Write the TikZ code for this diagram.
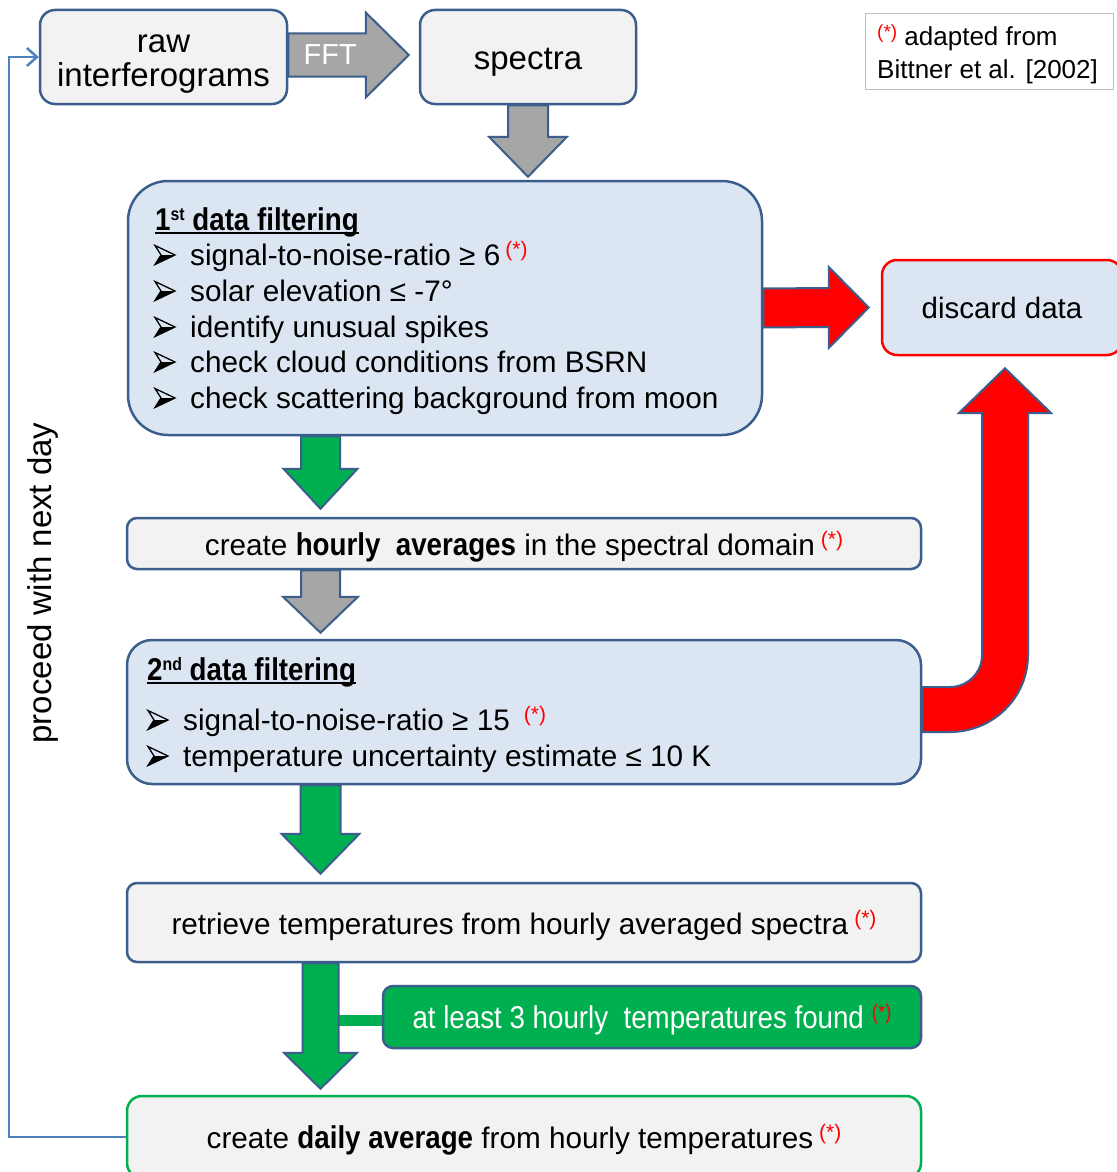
\documentclass[tikz,border=0pt]{standalone}
\usepackage{fontspec}
\setmainfont{Liberation Sans}
\newfontfamily\nar{Liberation Sans}[FakeStretch=0.88]
\usetikzlibrary{calc,arrows.meta,backgrounds}
\definecolor{bord}{HTML}{3B5E8C}
\definecolor{lgray}{HTML}{F2F2F2}
\definecolor{lblue}{HTML}{DCE6F2}
\definecolor{agray}{HTML}{A6A6A6}
\definecolor{agreen}{HTML}{00B050}
\definecolor{fblue}{HTML}{4F81BD}
\definecolor{nbord}{HTML}{BFBFBF}
\newcommand\fs[1]{\fontsize{#1}{#1}\selectfont}
\newcommand\astr{\raisebox{9pt}{\fs{21}\color{red}(*)}}
\newcommand\myul[1]{\setbox0\hbox{#1}\rlap{\rule[-3.5pt]{\wd0}{1.6pt}}\box0}
\newcommand\supx[1]{\raisebox{10pt}{\fs{18}#1}}
\newcommand\dn[1]{\raisebox{-#1pt}[\height][\depth]}
% style, start, tip, shaft half width, head half width, head length
\newcommand\downarrowblock[6]{\draw[#1] ($(#2)+(-#4,0)$) -- ($(#2)+(#4,0)$) -- ($(#3)+(#4,-#6)$) -- ($(#3)+(#5,-#6)$) -- (#3) -- ($(#3)+(-#5,-#6)$) -- ($(#3)+(-#4,-#6)$) -- cycle;}
\newcommand\rightarrowblock[6]{\draw[#1] ($(#2)+(0,-#4)$) -- ($(#3)+(-#6,-#4)$) -- ($(#3)+(-#6,-#5)$) -- (#3) -- ($(#3)+(-#6,#5)$) -- ($(#3)+(-#6,#4)$) -- ($(#2)+(0,#4)$) -- cycle;}
\begin{document}
\begin{tikzpicture}[x=1pt,y=-1pt,
  box/.style={draw=bord, line width=2.5pt, fill=lgray, rounded corners=15pt, inner sep=0pt},
  fbox/.style={box, fill=lblue},
  barrow/.style={draw=bord, line width=2pt, line join=miter},
  grayarrow/.style={barrow, fill=agray},
  greenarrow/.style={barrow, fill=agreen},
  redarrow/.style={barrow, fill=red},
  item/.style={anchor=base west, inner sep=0pt, font=\fs{29.7}},
  head/.style={anchor=base west, inner sep=0pt, font=\nar\bfseries\fs{31.5}},
  bul/.pic={
    \fill[black] (6,0) -- (20,0) -- (0,9.5) -- cycle;
    \draw[black, line width=1.3pt, line join=miter] (6,0) -- (0,-9.5) -- (20,0) -- (0,9.5) -- cycle;
  }]
\useasboundingbox (0,0) rectangle (1116,1172);
\begin{scope}[on background layer]
\fill[white] (0,0) rectangle (1116,1172);
\end{scope}

% top boxes
\node[box, minimum width=247pt, minimum height=94pt, font=\fontsize{33}{34}\selectfont] (raw) at (163.5,57) {\dn{6}{\begin{tabular}{@{}c@{}}raw\\interferograms\end{tabular}}};
\node[box, minimum width=216pt, minimum height=94pt, font=\fs{33}] (spectra) at (528,57) {\dn{5}{spectra}};
\coordinate (fftA) at ($(raw.east)+(0,-2)$);
\coordinate (fftB) at ($(spectra.west)+(-10,-2)$);
\rightarrowblock{grayarrow}{fftA}{fftB}{21.5}{42.5}{43}
\node[font=\fs{29}, text=white, inner sep=0pt] (fft) at ($(raw.east)+(42,-2)$) {FFT};

% note
\node[draw=nbord, line width=1pt, fill=white, minimum width=248pt, minimum height=75pt, inner sep=0pt] (note) at (989,51.5) {};
\node[anchor=base west, inner sep=0pt, font=\fs{26}] (n1) at (877,46) {\raisebox{8pt}{\fs{19}\color{red}(*)} adapted from};
\node[anchor=base west, inner sep=0pt, font=\fs{26}] (n2) at (877,78) {Bittner et al. [2002]};

% first filter
\node[fbox, rounded corners=40pt, minimum width=634pt, minimum height=254pt] (f1) at (445,308) {};
\coordinate (sA) at (spectra.south);
\coordinate (sB) at ($(f1.north -| spectra.south)+(0,-3)$);
\downarrowblock{grayarrow}{sA}{sB}{20}{39}{40}
\node[head] (f1t) at (155,230) {\myul{1\supx{st} data filtering}};
\node[item] (f1a) at (190,265) {signal-to-noise-ratio ≥ 6\hspace{5pt}\astr};
\node[item] (f1b) at (190,301) {solar elevation ≤ -7°};
\node[item] (f1c) at (190,337) {identify unusual spikes};
\node[item] (f1d) at (190,372) {check cloud conditions from BSRN};
\node[item] (f1e) at (190,408) {check scattering background from moon};
\foreach \yy in {255,291,327,362,398} \pic at (155,\yy) {bul};

% discard
\node[box, draw=red, fill=lblue, minimum width=240pt, minimum height=95pt, font=\fs{29.5}] (discard) at (1002,307.5) {discard data};
\coordinate (rA) at (f1.east);
\coordinate (rB) at ($(discard.west)+(-12,0)$);
\rightarrowblock{redarrow}{rA}{rB}{19.5}{40.5}{40}

% hourly
\coordinate (col) at (320.5,0);
\node[box, rounded corners=10pt, minimum width=794pt, minimum height=51pt, font=\fs{29.7}] (hourly) at (524,543.5) {\dn{3}{create {\nar\bfseries\fs{31.5}hourly\ \ averages} in the spectral domain\hspace{6pt}\astr}};
\coordinate (g1A) at (f1.south -| col);
\coordinate (g1B) at ($(hourly.north -| col)+(0,-8)$);
\downarrowblock{greenarrow}{g1A}{g1B}{19.5}{37}{40}

% second filter
\node[fbox, rounded corners=25pt, minimum width=794pt, minimum height=144pt] (f2) at (524,712) {};
\coordinate (g2A) at (hourly.south -| col);
\coordinate (g2B) at ($(f2.north -| col)+(0,-6)$);
\downarrowblock{grayarrow}{g2A}{g2B}{19.5}{37.5}{36}
\node[head] (f2t) at (147,680) {\myul{2\supx{nd} data filtering}};
\node[item] (f2a) at (183,730) {signal-to-noise-ratio ≥ 15\hspace{14pt}\astr};
\node[item] (f2b) at (183,766) {temperature uncertainty estimate ≤ 10 K};
\foreach \yy in {720,756} \pic at (148,\yy) {bul};

% bent red arrow
\coordinate (b0) at ($(f2.east)+(0,-25)$);
\coordinate (b1) at ($(f2.east)+(0,20)$);
\coordinate (tipR) at ($(discard.south)+(3,12)$);
\draw[redarrow] (b0) -- (950,687) .. controls (967.7,687) and (982,672.7) .. (982,655) -- (982,413) -- (959,413) -- (tipR) -- (1051,413) -- (1028,413) -- (1028,655) .. controls (1028,697.8) and (992.8,732) .. (950,732) -- (b1) -- cycle;

% retrieve
\node[box, rounded corners=10pt, minimum width=794pt, minimum height=79pt, font=\fs{29.7}] (retrieve) at (524,922.5) {\dn{3}{retrieve temperatures from hourly averaged spectra\hspace{6pt}\astr}};
\coordinate (g3A) at (f2.south -| col);
\coordinate (g3B) at ($(retrieve.north -| col)+(0,-8)$);
\downarrowblock{greenarrow}{g3A}{g3B}{20}{39}{40}

% daily
\node[box, draw=agreen, rounded corners=15pt, minimum width=794pt, minimum height=82pt, font=\fs{29.7}] (daily) at (524,1137) {\dn{3}{create {\nar\bfseries\fs{31.5}daily average} from hourly temperatures\hspace{6pt}\astr}};
\node[box, fill=agreen, rounded corners=10pt, minimum width=538pt, minimum height=62pt, text=white, font=\nar\fs{31.5}] (gbox) at (652,1017) {\dn{3}{at least 3 hourly\ \ temperatures found\hspace{8pt}\astr}};
\begin{scope}[on background layer]
\draw[agreen, line width=11pt] ($(gbox.west)+(0,3)$) -- ($(gbox.west -| col)+(10,3)$);
\end{scope}
\coordinate (g4A) at (retrieve.south -| col);
\coordinate (g4B) at ($(daily.north -| col)+(0,-6)$);
\downarrowblock{greenarrow}{g4A}{g4B}{18}{36.5}{36}

% feedback loop
\draw[fblue, line width=2.5pt, -{Straight Barb[length=10pt,width=18pt]}] (daily.west) -- ++(-117,0) |- (raw.west);
\node[rotate=90, font=\fs{33}, inner sep=0pt] (proceed) at (43,583) {proceed with next day};
\end{tikzpicture}
\end{document}
